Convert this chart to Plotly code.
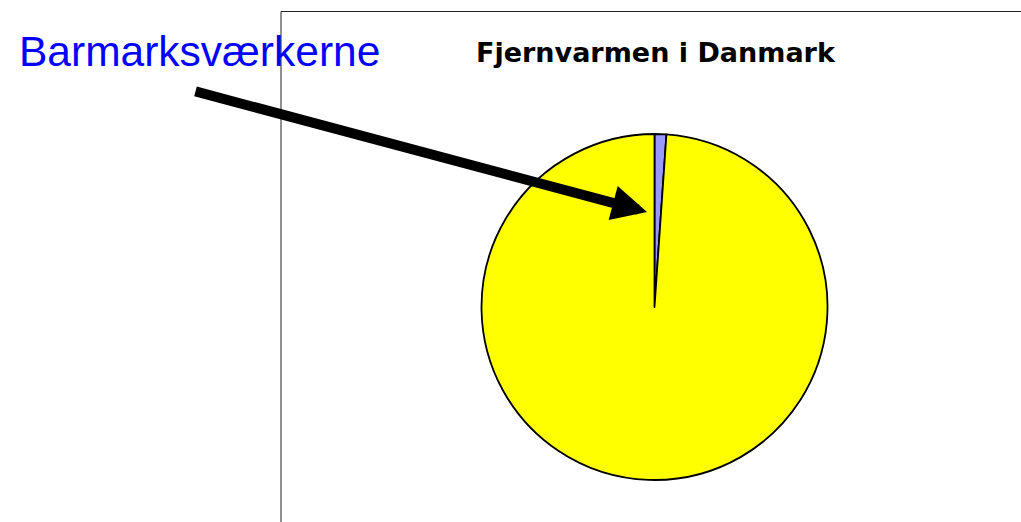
import plotly.graph_objects as go

# district heating split (share, %)
labels = ["Barmarksværkerne", "Øvrig fjernvarme"]
values = [1.1, 98.9]
colors = ["#9999FF", "#FFFF00"]

title_text = "Fjernvarmen i Danmark"
callout_text = "Barmarksværkerne"

W, H = 1021, 522

fig = go.Figure()
fig.add_trace(go.Pie(
    labels=labels,
    values=values,
    sort=False,
    direction="clockwise",
    rotation=0,
    marker=dict(colors=colors, line=dict(color="black", width=1.8)),
    textinfo="none",
    hoverinfo="label+percent",
    showlegend=False,
    domain=dict(x=[481.5 / W, 827.5 / W], y=[1 - 480 / H, 1 - 134 / H]),
))

# chart frame (runs off the right and bottom edge)
fig.add_shape(type="rect", xref="paper", yref="paper",
              x0=281 / W, x1=1.05, y0=-0.05, y1=1 - 11.5 / H,
              line=dict(color="#222222", width=1), layer="above")

# title
fig.add_annotation(text="<b>" + title_text + "</b>", xref="paper", yref="paper",
                   x=655.5 / W, y=1 - 52.5 / H, showarrow=False,
                   xanchor="center", yanchor="middle",
                   font=dict(family="DejaVu Sans", size=27, color="black"))

# callout label
fig.add_annotation(text=callout_text, xref="paper", yref="paper",
                   x=199.5 / W, y=1 - 52 / H, showarrow=False,
                   xanchor="center", yanchor="middle",
                   font=dict(family="Liberation Sans, Arial", size=42.5, color="#0000FF"))

# arrow pointing at the small slice
fig.add_annotation(text="", xref="paper", yref="paper",
                   x=647 / W, y=1 - 212 / H, ax=-453, ay=-121,
                   showarrow=True, arrowhead=2, arrowsize=0.7,
                   arrowwidth=10, arrowcolor="black")

fig.update_layout(
    width=W, height=H,
    margin=dict(l=0, r=0, t=0, b=0),
    paper_bgcolor="white",
    plot_bgcolor="white",
)

fig.write_html("out.html", config={"displayModeBar": False},
               post_script="document.body.style.margin='0';")
